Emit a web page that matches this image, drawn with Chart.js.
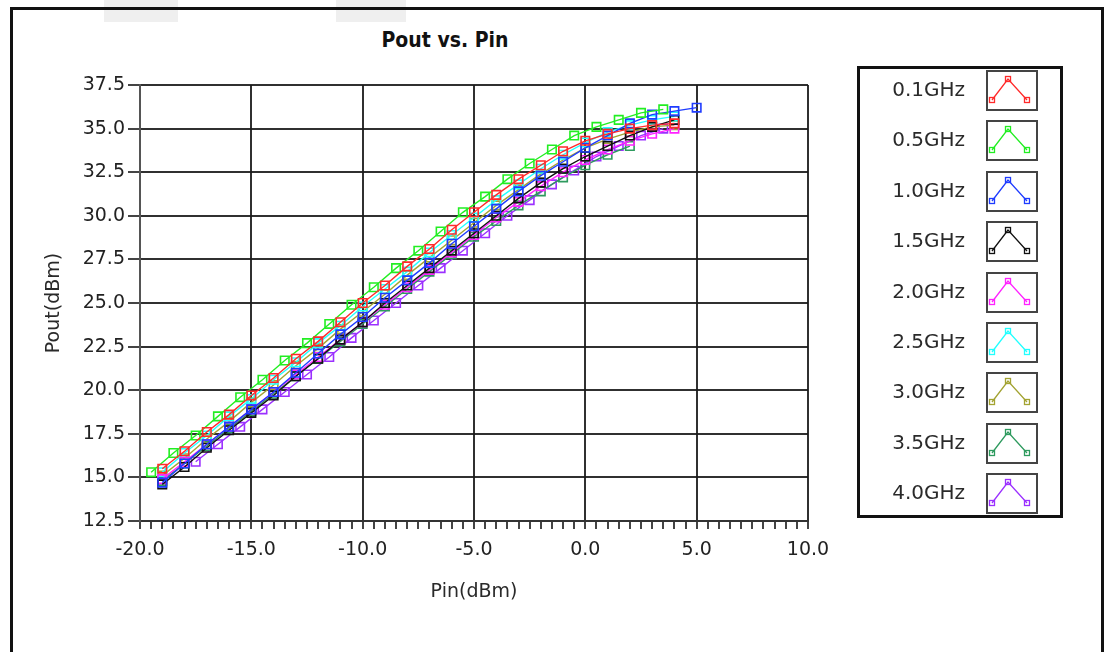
<!DOCTYPE html>
<html>
<head>
<meta charset="utf-8">
<script src="https://cdn.jsdelivr.net/npm/chart.js@4.4.0/dist/chart.umd.min.js"></script>
<style>
  body { margin: 0; background: #fff; width: 1108px; height: 652px; overflow: hidden; position: relative; font-family: 'DejaVu Sans', sans-serif; }
  .blk { position: absolute; top: 0; height: 22px; background: #efefef; }
  #frame { position: absolute; left: 10px; top: 7px; width: 1088px; height: 700px; border: 3px solid #111; border-bottom: none; }
  #title { position: absolute; left: 345px; width: 200px; top: 28px; text-align: center; font-family: 'DejaVu Sans Condensed', 'DejaVu Sans', sans-serif; font-weight: bold; font-size: 21px; color: #111; }
  #chart { position: absolute; left: 0; top: 0; }
  #legend { position: absolute; left: 857px; top: 66px; width: 206px; height: 452px; border: 3px solid #111; box-sizing: border-box; }
  .row { position: absolute; left: 0; width: 1108px; height: 40px; }
  .row span { position: absolute; right: 143px; top: 7px; font-size: 20px; color: #2a2a2a; white-space: nowrap; }
  .row canvas { position: absolute; left: 986px; top: 0; }
</style>
</head>
<body>
<div class="blk" style="left:104px;width:74px"></div>
<div class="blk" style="left:336px;width:70px"></div>
<div id="frame"></div>
<div id="title">Pout vs. Pin</div>
<canvas id="chart" width="1108" height="652"></canvas>
<div id="legend"></div>
<div id="rows"></div>
<script>
// input power steps (dBm) for each sweep
const pin19to4 = [-19,-18,-17,-16,-15,-14,-13,-12,-11,-10,-9,-8,-7,-6,-5,-4,-3,-2,-1,0,1,2,3,4];
const pin19to5 = [-19,-18,-17,-16,-15,-14,-13,-12,-11,-10,-9,-8,-7,-6,-5,-4,-3,-2,-1,0,1,2,3,4,5];
const pinHalf = [-19.5,-18.5,-17.5,-16.5,-15.5,-14.5,-13.5,-12.5,-11.5,-10.5,-9.5,-8.5,-7.5,-6.5,-5.5,-4.5,-3.5,-2.5,-1.5,-0.5,0.5,1.5,2.5,3.5];
const pin19to2 = [-19,-18,-17,-16,-15,-14,-13,-12,-11,-10,-9,-8,-7,-6,-5,-4,-3,-2,-1,0,1,2];
const pin175 = [-17.5,-16.5,-15.5,-14.5,-13.5,-12.5,-11.5,-10.5,-9.5,-8.5,-7.5,-6.5,-5.5,-4.5,-3.5,-2.5,-1.5,-0.5,0.5,1.5,2.5,3.5];

// output power (dBm) per frequency
const pout01 = [15.5,16.5,17.6,18.6,19.7,20.7,21.8,22.8,23.9,25.0,26.0,27.1,28.1,29.2,30.2,31.2,32.1,32.9,33.7,34.3,34.7,35.0,35.2,35.3];
const pout05 = [15.3,16.4,17.4,18.5,19.6,20.6,21.7,22.7,23.8,24.9,25.9,27.0,28.0,29.1,30.2,31.1,32.1,33.0,33.8,34.6,35.1,35.5,35.9,36.1];
const pout10 = [14.7,15.8,16.9,17.9,18.9,19.9,21.0,22.1,23.2,24.2,25.3,26.3,27.3,28.4,29.4,30.4,31.4,32.3,33.1,33.9,34.6,35.3,35.8,36.0,36.2];
const pout15 = [14.6,15.6,16.7,17.7,18.7,19.7,20.8,21.8,22.9,23.9,25.0,26.0,27.0,28.0,29.0,30.0,31.0,31.9,32.7,33.4,34.0,34.6,35.1,35.5];
const pout20 = [14.9,15.9,16.9,17.9,18.9,19.9,20.9,21.9,22.9,23.9,24.9,25.9,26.9,27.9,28.9,29.9,30.8,31.7,32.5,33.2,33.8,34.3,34.7,35.0];
const pout25 = [15.3,16.4,17.4,18.5,19.5,20.6,21.6,22.7,23.7,24.8,25.8,26.8,27.9,28.9,29.9,30.9,31.8,32.7,33.5,34.2,34.8,35.2,35.5,35.7];
const pout30 = [15.1,16.1,17.2,18.2,19.3,20.3,21.4,22.4,23.5,24.5,25.5,26.6,27.6,28.6,29.6,30.6,31.5,32.4,33.2,33.9,34.4,34.8,35.1,35.2];
const pout35 = [14.8,15.8,16.8,17.8,18.8,19.8,20.8,21.8,22.8,23.8,24.8,25.8,26.8,27.8,28.8,29.7,30.6,31.4,32.2,32.9,33.5,34.0];
const pout40 = [15.9,16.9,17.9,18.9,19.9,20.9,21.9,23.0,24.0,25.0,26.0,27.0,28.0,29.0,30.0,30.9,31.8,32.6,33.4,34.0,34.6,35.0];

const labels = ['0.1GHz','0.5GHz','1.0GHz','1.5GHz','2.0GHz','2.5GHz','3.0GHz','3.5GHz','4.0GHz'];
const colors = ['#ff2a2a','#22ee22','#1f3cff','#111111','#ff22ff','#22ffff','#a3a332','#2e9a5e','#9b30ff'];
const pins = [pin19to4, pinHalf, pin19to5, pin19to4, pin19to4, pin19to4, pin19to4, pin19to2, pin175];
const pouts = [pout01, pout05, pout10, pout15, pout20, pout25, pout30, pout35, pout40];

const yTicks = [12.5,15,17.5,20,22.5,25,27.5,30,32.5,35,37.5];

const datasets = labels.map((lab, i) => ({
    label: lab,
    data: pins[i].map((x, j) => ({ x: x, y: pouts[i][j] })),
    showLine: true,
    borderColor: colors[i],
    backgroundColor: 'rgba(255,255,255,0)',
    borderWidth: 1.4,
    pointStyle: 'rect',
    pointRadius: 6,
    pointBorderWidth: 1.6,
    pointBorderColor: colors[i],
    pointBackgroundColor: 'rgba(255,255,255,0)'
}));

const tickFont = { family: 'DejaVu Sans', size: 19 };
const gridDark = 'rgba(25,25,25,0.9)';

new Chart(document.getElementById('chart'), {
    type: 'scatter',
    data: { datasets: datasets },
    options: {
        responsive: false,
        animation: false,
        layout: { padding: { left: 40, right: 300, top: 85, bottom: 20 } },
        plugins: { legend: { display: false }, tooltip: { enabled: false } },
        scales: {
            x: {
                type: 'linear', min: -20, max: 10,
                afterFit: s => { s.height = 111; },
                border: { color: '#333', width: 2 },
                grid: {
                    color: c => (c.tick && Math.abs(c.tick.value % 5) < 1e-6) ? gridDark : 'rgba(0,0,0,0)',
                    lineWidth: 2,
                    tickColor: '#444',
                    tickLength: 8,
                    tickWidth: 2
                },
                ticks: {
                    stepSize: 0.5, autoSkip: false, maxRotation: 0, padding: 10,
                    color: '#222', font: tickFont,
                    callback: v => Math.abs(v % 5) < 1e-6 ? v.toFixed(1) : ''
                },
                title: { display: true, text: 'Pin(dBm)', color: '#2a2a2a', font: { family: 'DejaVu Sans', size: 19 }, padding: { top: 0, bottom: 29 } }
            },
            y: {
                type: 'linear', min: 12.5, max: 37.5,
                afterFit: s => { s.width = 100; },
                afterBuildTicks: s => { s.ticks = yTicks.map(v => ({ value: v })); },
                border: { color: '#555', width: 2 },
                grid: { color: gridDark, lineWidth: 2, tickColor: '#444', tickLength: 12 },
                ticks: { color: '#222', font: tickFont, padding: 3, callback: v => v.toFixed(1) },
                title: { display: true, text: 'Pout(dBm)', color: '#2a2a2a', font: { family: 'DejaVu Sans', size: 19 }, padding: { top: 3, bottom: 0 } }
            }
        }
    }
});

// legend rows with small icon boxes
const rowsDiv = document.getElementById('rows');
labels.forEach((lab, i) => {
    const top = 70 + i * 50.4;
    const row = document.createElement('div');
    row.className = 'row';
    row.style.top = top + 'px';
    const sp = document.createElement('span');
    sp.textContent = lab;
    row.appendChild(sp);
    const cv = document.createElement('canvas');
    cv.width = 52; cv.height = 41;
    row.appendChild(cv);
    rowsDiv.appendChild(row);
    const g = cv.getContext('2d');
    g.strokeStyle = '#444'; g.lineWidth = 2;
    g.strokeRect(1, 1, 50, 39);
    g.strokeStyle = colors[i]; g.lineWidth = 1.3;
    const pts = [[6, 30], [22, 9], [41, 30]];
    g.beginPath();
    g.moveTo(pts[0][0], pts[0][1]); g.lineTo(pts[1][0], pts[1][1]); g.lineTo(pts[2][0], pts[2][1]);
    g.stroke();
    pts.forEach(p => g.strokeRect(p[0] - 2.5, p[1] - 2.5, 5, 5));
});
</script>
</body>
</html>
